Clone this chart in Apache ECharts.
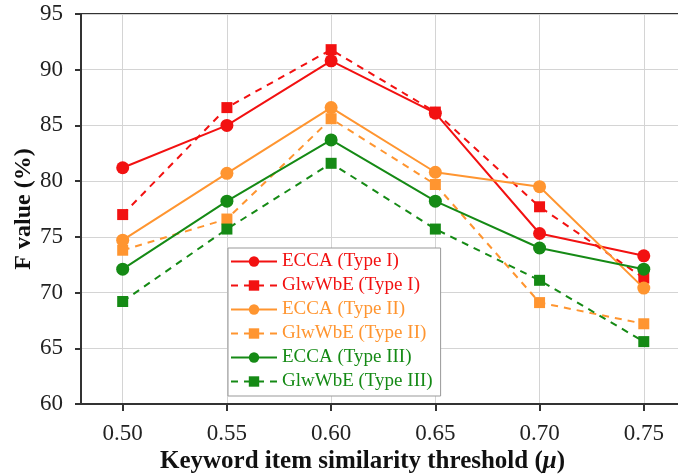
<!DOCTYPE html>
<html>
<head>
<meta charset="utf-8" />
<title>F value chart</title>
<script src="https://cdn.jsdelivr.net/npm/echarts@6/dist/echarts.min.js"></script>
<style>
  html, body { margin: 0; padding: 0; background: #fff; }
  #main { width: 678px; height: 475px; }
</style>
</head>
<body>
<div id="main"></div>
<script>
// thresholds (x axis)
var thresholds = [0.50, 0.55, 0.60, 0.65, 0.70, 0.75];
var xTickLabels = ['0.50', '0.55', '0.60', '0.65', '0.70', '0.75'];

// F values (%)
var eccaType1 = [81.2, 85.0, 90.8, 86.1, 75.3, 73.3];
var glwType1 = [77.0, 86.6, 91.8, 86.2, 77.7, 71.3];
var eccaType2 = [74.7, 80.7, 86.6, 80.8, 79.5, 70.4];
var glwType2 = [73.8, 76.6, 85.6, 79.7, 69.1, 67.2];
var eccaType3 = [72.1, 78.2, 83.7, 78.2, 74.0, 72.1];
var glwType3 = [69.2, 75.7, 81.6, 75.7, 71.1, 65.6];

var names = ['ECCA (Type I)', 'GlwWbE (Type I)', 'ECCA (Type II)', 'GlwWbE (Type II)', 'ECCA (Type III)', 'GlwWbE (Type III)'];
var RED = '#f21111', ORANGE = '#ff9530', GREEN = '#158a15';

function pairs(ys) {
  return thresholds.map(function (x, i) { return [x, ys[i]]; });
}

function makeSeries(name, ys, color, dashed) {
  return {
    name: name,
    type: 'line',
    data: pairs(ys),
    symbol: dashed ? 'rect' : 'circle',
    symbolSize: dashed ? 11 : 13,
    itemStyle: { color: color },
    lineStyle: { color: color, width: 2, type: dashed ? [7, 6] : 'solid' },
    z: dashed ? 3 : 4
  };
}

var serif = '"Liberation Serif", "DejaVu Serif", serif';
var chart = echarts.init(document.getElementById('main'));
chart.setOption({
  animation: false,
  grid: {
    // plot runs past the right edge of the picture (cropped in the reference)
    left: 81, width: 667, top: 14, bottom: 71,
    outerBoundsMode: 'none',
    containLabel: false,
    show: true, borderColor: '#333', borderWidth: 2
  },
  legend: {
    orient: 'vertical',
    left: 228, top: 248,
    itemWidth: 46, itemHeight: 13, itemGap: 5,
    padding: [4, 8, 5, 2],
    backgroundColor: '#fff',
    borderColor: '#999', borderWidth: 1,
    textStyle: { fontFamily: serif, fontSize: 19 },
    data: [
      { name: names[0], textStyle: { color: RED } },
      { name: names[1], textStyle: { color: RED } },
      { name: names[2], textStyle: { color: ORANGE } },
      { name: names[3], textStyle: { color: ORANGE } },
      { name: names[4], textStyle: { color: GREEN } },
      { name: names[5], textStyle: { color: GREEN } }
    ]
  },
  xAxis: {
    type: 'value',
    min: 0.48, max: 0.80,
    name: '{a|Keyword item similarity threshold (}{b|\u03bc}{a|)}',
    nameLocation: 'middle',
    nameGap: 45,
    nameMoveOverlap: false,
    nameTextStyle: {
      fontFamily: serif, fontSize: 25, fontWeight: 'bold', color: '#111',
      padding: [0, 104, 0, 0],
      rich: {
        a: { fontFamily: serif, fontSize: 25, fontWeight: 'bold', color: '#111' },
        b: { fontFamily: serif, fontSize: 25, fontWeight: 'bold', fontStyle: 'italic', color: '#111' }
      }
    },
    axisLine: { lineStyle: { color: '#333', width: 2 } },
    axisTick: { customValues: thresholds, length: 7, lineStyle: { color: '#333', width: 2 } },
    axisLabel: {
      customValues: thresholds,
      formatter: function (v) { return xTickLabels[thresholds.indexOf(Math.round(v * 100) / 100)]; },
      fontFamily: serif, fontSize: 23, color: '#222', margin: 18
    },
    splitLine: { show: true, lineStyle: { color: '#d4d4d4', width: 1 } }
  },
  yAxis: {
    type: 'value',
    min: 60, max: 95, interval: 5,
    name: 'F value (%)',
    nameLocation: 'middle',
    nameGap: 45,
    nameMoveOverlap: false,
    nameTextStyle: { fontFamily: serif, fontSize: 24, fontWeight: 'bold', color: '#111' },
    axisLine: { show: true, lineStyle: { color: '#333', width: 2 } },
    axisTick: { show: true, length: 6, lineStyle: { color: '#333', width: 2 } },
    axisLabel: { fontFamily: serif, fontSize: 23, color: '#222', margin: 18 },
    splitLine: { show: true, lineStyle: { color: '#d4d4d4', width: 1 } }
  },
  series: [
    makeSeries(names[0], eccaType1, RED, false),
    makeSeries(names[1], glwType1, RED, true),
    makeSeries(names[2], eccaType2, ORANGE, false),
    makeSeries(names[3], glwType2, ORANGE, true),
    makeSeries(names[4], eccaType3, GREEN, false),
    makeSeries(names[5], glwType3, GREEN, true)
  ]
});
</script>
</body>
</html>
